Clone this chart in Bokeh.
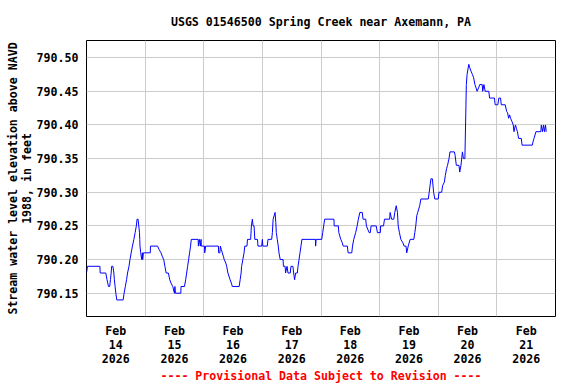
from bokeh.plotting import figure
from bokeh.models import FixedTicker, Range1d, Title, PrintfTickFormatter, ColumnDataSource
from bokeh.embed import file_html
from bokeh.resources import INLINE

# ---------------- data ----------------
title_text = "USGS 01546500 Spring Creek near Axemann, PA"
y_label = "Stream water level elevation above NAVD\n1988, in feet"
footer_text = "---- Provisional Data Subject to Revision ----"

# hours since 2026-02-14 00:00
hours = [
    0.0, 0.4, 5.5, 5.6, 7.9, 8.4, 9.0, 9.5, 9.8, 10.1, 10.3, 10.8, 11.2, 11.4, 11.7, 12.0, 12.4,
    15.0, 15.4, 15.9, 16.4, 16.8, 17.4, 17.8, 18.3, 18.8, 19.4, 19.9, 20.4, 20.7, 21.1, 21.4,
    21.7, 21.8, 21.9, 22.2, 22.6, 22.9, 23.0, 23.3, 26.1, 26.2, 29.1, 29.7, 30.5, 31.0, 31.6,
    32.1, 32.6, 33.5, 34.1, 34.6, 35.3, 36.0, 36.2, 36.4, 38.6, 38.7, 40.1, 40.6, 41.0, 41.4,
    41.8, 42.2, 42.6, 42.9, 45.7, 45.8, 46.2, 46.6, 46.9, 47.0, 48.3, 48.4, 48.8,
    54.0, 54.1, 54.6, 54.8, 55.2, 55.6, 56.0, 56.4, 57.0, 57.4, 57.9, 58.8, 59.3, 59.7, 62.5,
    62.9, 63.3, 63.5, 64.0, 64.5, 64.8, 65.7, 65.9, 67.2, 67.5, 67.9, 68.2, 68.6, 68.9, 70.0,
    70.2, 71.7, 72.0, 72.2, 74.0, 74.3, 75.8, 76.1, 76.4, 77.2, 77.5, 77.7, 78.1, 78.5, 78.8,
    79.3, 80.5, 80.6, 81.3, 81.5, 82.1, 82.5, 83.4, 83.7, 84.5, 84.8, 85.2, 85.6, 86.3, 86.6,
    87.0, 87.4, 87.8, 88.2, 93.7, 93.8, 94.0, 96.3, 96.7, 97.1, 97.5, 101.3,
    101.4, 103.1, 103.3, 103.7, 104.1, 104.7, 105.1, 106.8, 107.1, 108.6, 108.9, 109.4, 110.2,
    110.8, 111.3, 111.9, 112.9, 113.2, 114.3, 114.6, 115.7, 116.2, 116.5, 118.6, 119.1, 120.3,
    120.4, 121.6, 122.0, 124.1, 124.3, 124.9, 125.8, 126.2, 126.8, 127.3, 127.6, 128.1, 128.7,
    129.5, 130.0, 130.8, 131.1, 131.7, 132.5, 134.0, 134.4, 134.8, 135.2, 135.6, 136.0, 136.4,
    136.9, 139.9, 140.3, 141.0, 141.6, 142.1, 142.6, 144.0, 144.3, 145.4, 145.8, 146.5, 146.9,
    147.4, 147.8, 148.4, 148.8, 150.6, 150.9, 151.4, 152.5, 152.8, 153.3, 153.9, 154.3, 154.9,
    155.1, 155.5, 155.8, 156.5, 156.9, 157.4, 158.0, 158.5, 159.0, 159.5, 159.9, 160.5, 161.0,
    162.0, 162.2, 162.7, 163.2, 164.7, 165.0, 167.0, 167.3, 168.4, 168.8, 169.5, 169.8, 171.4,
    172.0, 172.4, 172.8, 173.2, 173.6, 174.2, 174.7, 175.0, 175.6, 176.0, 176.4, 176.9, 178.0,
    178.3, 182.5, 182.8, 183.2, 184.0, 186.0, 186.2, 186.7, 187.1, 187.5, 187.9, 188.2,
]
level_ft = [
    790.18, 790.19, 790.19, 790.18, 790.18, 790.17, 790.16, 790.16, 790.17, 790.18, 790.19, 790.19, 790.18, 790.17, 790.16, 790.15, 790.14,
    790.14, 790.15, 790.16, 790.17, 790.18, 790.19, 790.20, 790.21, 790.22, 790.23, 790.24, 790.25, 790.26, 790.26, 790.25,
    790.24, 790.23, 790.22, 790.21, 790.20, 790.21, 790.20, 790.21, 790.21, 790.22, 790.22, 790.215, 790.21, 790.205, 790.20,
    790.19, 790.18, 790.18, 790.17, 790.165, 790.16, 790.15, 790.16, 790.15, 790.15, 790.16, 790.16, 790.17, 790.18, 790.19,
    790.20, 790.21, 790.22, 790.23, 790.23, 790.22, 790.23, 790.22, 790.23, 790.22, 790.22, 790.21, 790.22,
    790.22, 790.21, 790.21, 790.22, 790.215, 790.21, 790.205, 790.20, 790.195, 790.19, 790.18, 790.17, 790.165, 790.16, 790.16,
    790.17, 790.18, 790.19, 790.20, 790.21, 790.22, 790.22, 790.23, 790.23, 790.25, 790.26, 790.25, 790.25, 790.23, 790.23,
    790.22, 790.22, 790.23, 790.22, 790.22, 790.23, 790.23, 790.24, 790.26, 790.27, 790.255, 790.24, 790.23, 790.22, 790.21,
    790.20, 790.20, 790.19, 790.19, 790.18, 790.19, 790.18, 790.18, 790.19, 790.19, 790.18, 790.17, 790.18, 790.18, 790.19,
    790.20, 790.21, 790.22, 790.23, 790.23, 790.22, 790.23, 790.23, 790.24, 790.25, 790.26, 790.26,
    790.25, 790.25, 790.24, 790.235, 790.23, 790.225, 790.22, 790.22, 790.21, 790.21, 790.22, 790.23, 790.24,
    790.25, 790.26, 790.27, 790.27, 790.26, 790.26, 790.25, 790.24, 790.24, 790.25, 790.25, 790.24, 790.24,
    790.25, 790.25, 790.26, 790.26, 790.27, 790.26, 790.26, 790.27, 790.28, 790.27, 790.25, 790.24, 790.23,
    790.225, 790.22, 790.22, 790.21, 790.22, 790.23, 790.23, 790.24, 790.25, 790.265, 790.27, 790.275, 790.28,
    790.29, 790.29, 790.30, 790.32, 790.32, 790.30, 790.29, 790.29, 790.30, 790.30, 790.31, 790.315, 790.325,
    790.335, 790.34, 790.35, 790.36, 790.36, 790.355, 790.34, 790.34, 790.33, 790.34, 790.36, 790.35, 790.35,
    790.385, 790.46, 790.475, 790.49, 790.485, 790.48, 790.475, 790.47, 790.46, 790.455, 790.45, 790.455, 790.46,
    790.46, 790.45, 790.46, 790.45, 790.45, 790.44, 790.44, 790.43, 790.43, 790.44, 790.44, 790.43, 790.43,
    790.42, 790.418, 790.41, 790.415, 790.41, 790.405, 790.40, 790.39, 790.40, 790.395, 790.39, 790.38, 790.38,
    790.37, 790.37, 790.375, 790.38, 790.39, 790.39, 790.40, 790.39, 790.40, 790.39, 790.40, 790.39,
]

tick_hours = [12, 36, 60, 84, 108, 132, 156, 180]
tick_labels = ["Feb\n14\n2026", "Feb\n15\n2026", "Feb\n16\n2026", "Feb\n17\n2026",
               "Feb\n18\n2026", "Feb\n19\n2026", "Feb\n20\n2026", "Feb\n21\n2026"]
grid_hours = [24, 48, 72, 96, 120, 144, 168]
y_ticks = [790.15, 790.20, 790.25, 790.30, 790.35, 790.40, 790.45, 790.50]

# ---------------- figure ----------------
FONT = "DejaVu Sans Mono"
FS = "11.6px"

p = figure(width=576, height=384, output_backend="svg", toolbar_location=None,
           x_range=Range1d(0, 192), y_range=Range1d(790.1154, 790.5255),
           min_border_left=86, min_border_right=21, min_border_top=40, min_border_bottom=68,
           background_fill_color="white", border_fill_color="white")

p.outline_line_color = "black"
p.outline_line_width = 1
p.outline_line_alpha = 1

p.title.text = title_text
p.title.align = "center"
p.title.text_font = FONT
p.title.text_font_size = FS
p.title.text_font_style = "bold"
p.title.text_color = "black"
p.title.standoff = 24

src = ColumnDataSource(dict(t=hours, v=level_ft))
p.line("t", "v", source=src, line_color="#0000ff", line_width=1)

for ax in (p.xaxis[0], p.yaxis[0]):
    ax.axis_line_color = None
    ax.major_tick_out = 0
    ax.major_tick_in = 0
    ax.minor_tick_out = 0
    ax.minor_tick_in = 0
    ax.major_label_text_font = FONT
    ax.major_label_text_font_size = FS
    ax.major_label_text_font_style = "bold"
    ax.major_label_text_color = "black"

p.xaxis.ticker = FixedTicker(ticks=tick_hours)
p.xaxis.major_label_overrides = dict(zip(tick_hours, tick_labels))
p.xaxis.major_label_standoff = 7
p.xaxis.major_label_text_line_height = 1.02

p.yaxis.ticker = FixedTicker(ticks=y_ticks)
p.yaxis.formatter = PrintfTickFormatter(format="%.2f")
p.yaxis.major_label_standoff = 8
p.yaxis.axis_label = y_label
p.yaxis.axis_label_text_font = FONT
p.yaxis.axis_label_text_font_size = FS
p.yaxis.axis_label_text_font_style = "bold"
p.yaxis.axis_label_text_color = "black"
p.yaxis.axis_label_standoff = 0
p.yaxis.axis_label_text_line_height = 1.0

p.xgrid.ticker = FixedTicker(ticks=grid_hours)
p.ygrid.ticker = FixedTicker(ticks=y_ticks)
p.xgrid.grid_line_color = "#cccccc"
p.ygrid.grid_line_color = "#cccccc"
p.xgrid.grid_line_width = 1
p.ygrid.grid_line_width = 1

p.add_layout(Title(text=footer_text, align="center", text_color="#ff0000",
                   text_font=FONT, text_font_size=FS, text_font_style="bold",
                   standoff=-6), "below")

open("out.html", "w").write(file_html(p, INLINE))
